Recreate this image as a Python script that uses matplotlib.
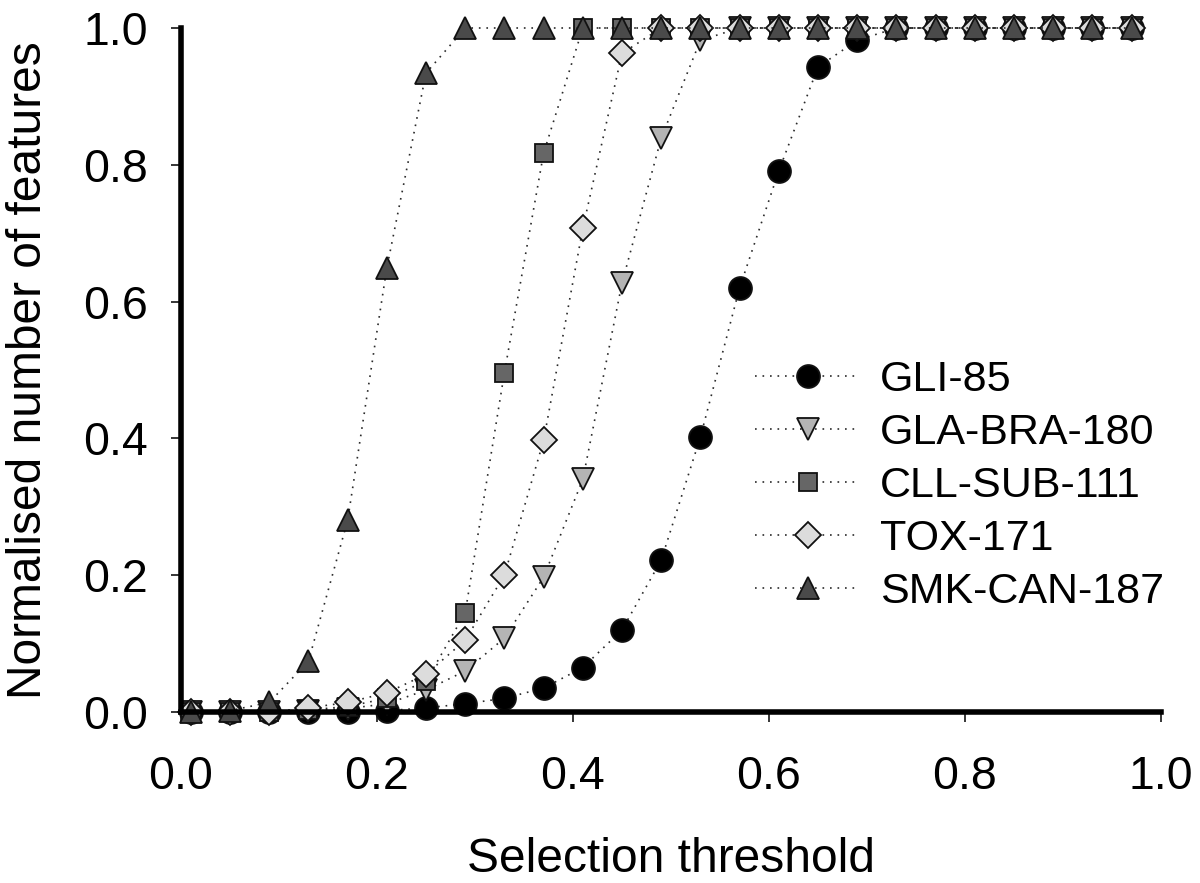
import matplotlib
matplotlib.use("Agg")
import matplotlib.pyplot as plt
import numpy as np

plt.rcParams['font.family'] = ['Liberation Sans', 'DejaVu Sans']

# Data
thresholds = [0.01, 0.05, 0.09, 0.13, 0.17, 0.21, 0.25, 0.29, 0.33, 0.37, 0.41,
              0.45, 0.49, 0.53, 0.57, 0.61, 0.65, 0.69, 0.73, 0.77, 0.81, 0.85,
              0.89, 0.93, 0.97]

gli_85 = [0.0, 0.0, 0.0, 0.0, 0.0, 0.002, 0.006, 0.012, 0.02, 0.035, 0.065,
          0.12, 0.222, 0.402, 0.62, 0.791, 0.943, 0.982, 1.0, 1.0, 1.0, 1.0,
          1.0, 1.0, 1.0]
gla_bra_180 = [0.0, 0.0, 0.0, 0.002, 0.005, 0.012, 0.032, 0.06, 0.108, 0.197,
               0.34, 0.627, 0.839, 0.982, 1.0, 1.0, 1.0, 1.0, 1.0, 1.0, 1.0,
               1.0, 1.0, 1.0, 1.0]
cll_sub_111 = [0.0, 0.0, 0.0, 0.003, 0.008, 0.02, 0.045, 0.145, 0.496, 0.817,
               1.0, 1.0, 1.0, 1.0, 1.0, 1.0, 1.0, 1.0, 1.0, 1.0, 1.0, 1.0,
               1.0, 1.0, 1.0]
tox_171 = [0.0, 0.0, 0.0, 0.006, 0.014, 0.028, 0.055, 0.105, 0.2, 0.397,
           0.707, 0.963, 1.0, 1.0, 1.0, 1.0, 1.0, 1.0, 1.0, 1.0, 1.0, 1.0,
           1.0, 1.0, 1.0]
smk_can_187 = [0.0, 0.002, 0.014, 0.074, 0.28, 0.649, 0.934, 1.0, 1.0, 1.0,
               1.0, 1.0, 1.0, 1.0, 1.0, 1.0, 1.0, 1.0, 1.0, 1.0, 1.0, 1.0,
               1.0, 1.0, 1.0]

series_labels = ['GLI-85', 'GLA-BRA-180', 'CLL-SUB-111', 'TOX-171', 'SMK-CAN-187']
series_values = [gli_85, gla_bra_180, cll_sub_111, tox_171, smk_can_187]

x_ticks = [0.0, 0.2, 0.4, 0.6, 0.8, 1.0]
y_ticks = [0.0, 0.2, 0.4, 0.6, 0.8, 1.0]

styles = [
    dict(marker='o', ms=16.5, mfc='#000000'),
    dict(marker='v', ms=15.5, mfc='#b4b4b4'),
    dict(marker='s', ms=13.5, mfc='#666666'),
    dict(marker='D', ms=13.5, mfc='#dcdcdc'),
    dict(marker='^', ms=15.5, mfc='#4a4a4a'),
]

fig = plt.figure(figsize=(12, 8.83), dpi=100)
ax = fig.add_axes([181 / 1200, 1 - 712 / 883, 980 / 1200, 684 / 883])

for lab, vals, st in zip(series_labels, series_values, styles):
    ax.plot(thresholds, vals, linestyle=(0, (1, 3.5)), lw=1.2, color='#2a2a2a',
            marker=st['marker'], markersize=st['ms'], markerfacecolor=st['mfc'],
            markeredgecolor='#111111', markeredgewidth=1.3, label=lab,
            clip_on=False)

ax.set_xlim(0, 1)
ax.set_ylim(0, 1)
ax.set_xticks(x_ticks)
ax.set_yticks(y_ticks)
ax.set_xticklabels([f'{v:.1f}' for v in x_ticks])
ax.set_yticklabels([f'{v:.1f}' for v in y_ticks])

for s in ['top', 'right']:
    ax.spines[s].set_visible(False)
for s in ['left', 'bottom']:
    ax.spines[s].set_linewidth(4)
    ax.spines[s].set_color('black')

ax.tick_params(axis='both', direction='out', length=7, width=1.1,
               labelsize=33.5, color='black')
ax.tick_params(axis='x', pad=24)
ax.tick_params(axis='y', pad=17)

ax.set_xlabel('Selection threshold', fontsize=34.5, labelpad=27)
ax.set_ylabel('Normalised number of features', fontsize=34.5, labelpad=23)

leg = ax.legend(loc='center left', bbox_to_anchor=(0.568, 0.330),
                frameon=False, fontsize=31, handlelength=2.45,
                handletextpad=0.45, labelspacing=0.3, borderaxespad=0,
                numpoints=1)

fig.savefig('out.png', dpi=100)
